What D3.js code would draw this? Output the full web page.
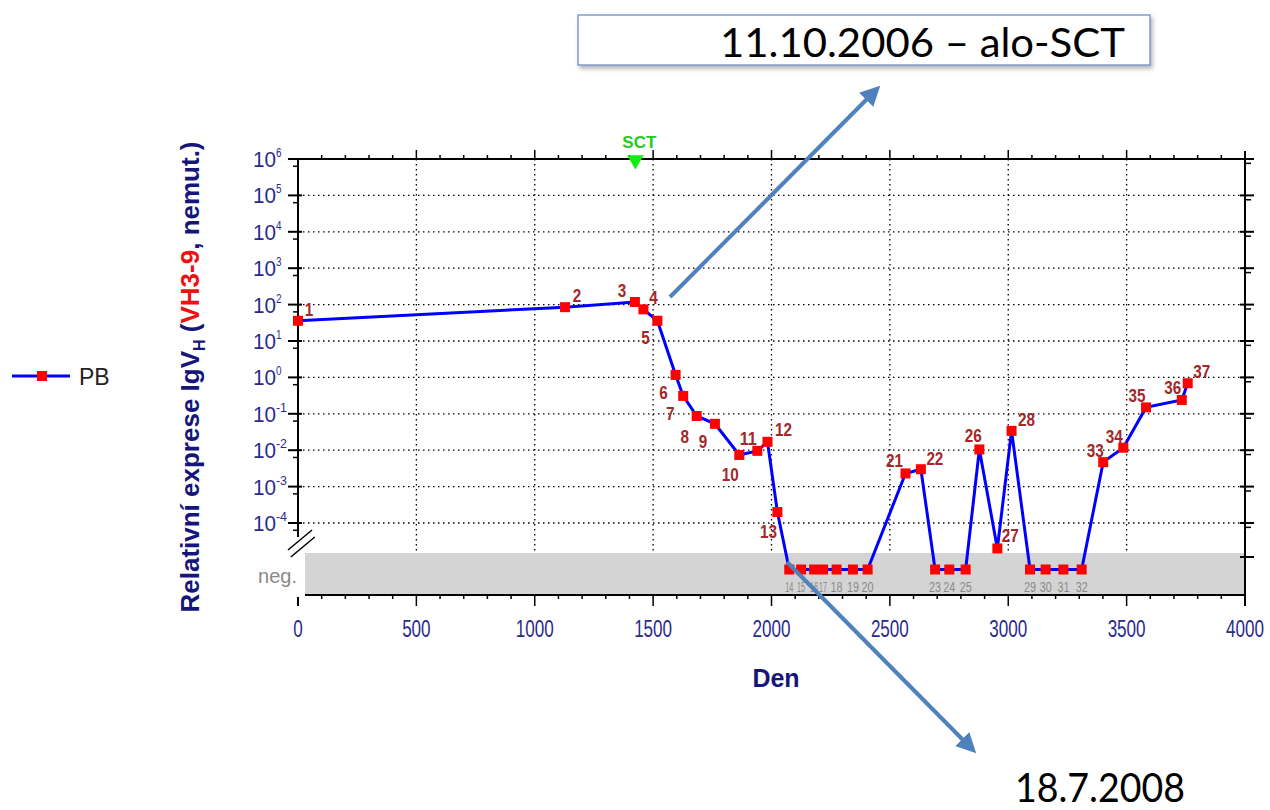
<!DOCTYPE html>
<html>
<head>
<meta charset="utf-8">
<script src="https://cdn.jsdelivr.net/npm/d3@7"></script>
<style>
	body { margin: 0; background: #fff; }
	svg { display: block; }
</style>
</head>
<body>
<div id="chart"></div>
<script>
// sample numbers 1..37, day after diagnosis, relative expression (null = negative)
const sampleIds = d3.range(1, 38)
const days = [0, 1128, 1423, 1459, 1518, 1595, 1627, 1684, 1761, 1864, 1940, 1983, 2025,
	2075, 2125, 2180, 2218, 2275, 2344, 2406,
	2566, 2631, 2691, 2751, 2820, 2878, 2954, 3014,
	3092, 3158, 3233, 3310, 3401, 3486, 3582, 3733, 3758]
const values = [36, 85, 118, 74, 36, 1.17, 0.31, 0.087, 0.053, 0.0074, 0.0096, 0.017, 0.0002,
	null, null, null, null, null, null, null,
	0.0023, 0.003, null, null, null, 0.0105, 0.00002, 0.034,
	null, null, null, null, 0.0047, 0.0117, 0.15, 0.24, 0.69]

const xTicks = [0, 500, 1000, 1500, 2000, 2500, 3000, 3500, 4000]
const yExponents = [6, 5, 4, 3, 2, 1, 0, -1, -2, -3, -4]
const sctDay = 1425

// label placement around each marker (dx, dy); negatives go below the marker
const labelOffsets = [[11, -11], [12, -11], [-13, -11], [10, -11], [-12, 17], [-12, 18], [-13, 18],
	[-12, 21], [-12, 18], [-9, 20], [-9, -12], [16, -12], [-9, 20],
	null, null, null, null, null, null, null,
	[-11, -12], [14, -10], null, null, null, [-6, -13], [13, -12], [15, -11],
	null, null, null, null, [-8, -11], [-9, -11], [-9, -11], [-9, -12], [14, -11]]

const width = 1270, height = 810
const plotLeft = 298, plotRight = 1245, plotTop = 159
const negTop = 553, negBottom = 594, axisBottom = 595

let svg = d3.select('#chart').append('svg')
	.attr('width', width)
	.attr('height', height)
	.style('font-family', '"Liberation Sans", Arial, sans-serif')

let defs = svg.append('defs')
defs.append('marker')
	.attr('id', 'arrow')
	.attr('viewBox', '0 0 10 10')
	.attr('refX', 7).attr('refY', 5)
	.attr('markerWidth', 5).attr('markerHeight', 5)
	.attr('markerUnits', 'strokeWidth')
	.attr('orient', 'auto')
	.append('path')
	.attr('d', 'M0,0 L10,5 L0,10 z')
	.attr('fill', '#4f81bd')
let shadow = defs.append('filter').attr('id', 'shadow')
	.attr('x', '-5%').attr('y', '-20%').attr('width', '110%').attr('height', '150%')
shadow.append('feDropShadow')
	.attr('dx', 2).attr('dy', 3).attr('stdDeviation', 2)
	.attr('flood-color', '#000').attr('flood-opacity', 0.3)

let x = d3.scaleLinear().domain([0, 4000]).range([plotLeft, plotRight])
let y = d3.scaleLog().domain([1e-4, 1e6]).range([523, plotTop])
let negY = (negTop + negBottom) / 2 - 4

// neg band
svg.append('rect')
	.attr('x', 305).attr('y', negTop)
	.attr('width', plotRight - 305).attr('height', negBottom - negTop)
	.attr('fill', '#d4d4d4')

// grid
let grid = svg.append('g')
	.attr('stroke', '#000')
	.attr('stroke-width', 1.3)
	.attr('stroke-dasharray', '1.5,3.5')
grid.selectAll('.hg')
	.data(yExponents.filter(e => e < 6))
	.enter().append('line')
	.attr('x1', plotLeft).attr('x2', plotRight)
	.attr('y1', e => y(Math.pow(10, e))).attr('y2', e => y(Math.pow(10, e)))
grid.selectAll('.vg')
	.data(xTicks.filter(t => t > 0 && t < 4000))
	.enter().append('line')
	.attr('x1', d => x(d)).attr('x2', d => x(d))
	.attr('y1', plotTop).attr('y2', negTop)

// axes
let axes = svg.append('g').attr('stroke', '#000').attr('fill', 'none')
axes.append('line').attr('x1', plotLeft).attr('x2', plotRight).attr('y1', plotTop).attr('y2', plotTop).attr('stroke-width', 2)
axes.append('line').attr('x1', 305).attr('x2', plotRight).attr('y1', axisBottom).attr('y2', axisBottom).attr('stroke-width', 2)
axes.append('line').attr('x1', plotLeft).attr('x2', plotLeft).attr('y1', plotTop - 1).attr('y2', 537).attr('stroke-width', 2)
axes.append('line').attr('x1', plotRight).attr('x2', plotRight).attr('y1', plotTop - 8).attr('y2', 606).attr('stroke-width', 2)
axes.append('line').attr('x1', plotLeft).attr('x2', plotLeft).attr('y1', 597).attr('y2', 606).attr('stroke-width', 2)

// break marks
axes.selectAll('.brk')
	.data([0, 7])
	.enter().append('line')
	.attr('x1', d => 288 + d * 0.4).attr('y1', d => 550 + d)
	.attr('x2', d => 312 + d * 0.4).attr('y2', d => 530 + d)
	.attr('stroke-width', 1.5)

// x minor / major ticks on top and bottom
let xMinor = d3.range(100, 4000, 100)
axes.selectAll('.tt')
	.data(xMinor)
	.enter().append('line')
	.attr('x1', d => x(d)).attr('x2', d => x(d))
	.attr('y1', plotTop).attr('y2', d => d % 500 === 0 ? plotTop - 9 : plotTop - 4)
	.attr('stroke-width', 1.5)
axes.selectAll('.bt')
	.data(xMinor)
	.enter().append('line')
	.attr('x1', d => x(d)).attr('x2', d => x(d))
	.attr('y1', axisBottom).attr('y2', d => d % 500 === 0 ? axisBottom + 11 : axisBottom + 4)
	.attr('stroke-width', 1.5)

// y ticks left and right
axes.selectAll('.lt')
	.data(yExponents)
	.enter().append('line')
	.attr('x1', plotLeft - 10).attr('x2', plotLeft + 4)
	.attr('y1', e => y(Math.pow(10, e))).attr('y2', e => y(Math.pow(10, e)))
	.attr('stroke-width', 2)
axes.selectAll('.lm')
	.data(yExponents)
	.enter().append('line')
	.attr('x1', plotLeft - 5).attr('x2', plotLeft)
	.attr('y1', e => y(Math.pow(10, e - 0.2))).attr('y2', e => y(Math.pow(10, e - 0.2)))
	.attr('stroke-width', 1.5)
axes.selectAll('.rt')
	.data(yExponents)
	.enter().append('line')
	.attr('x1', plotRight - 5).attr('x2', plotRight + 9)
	.attr('y1', e => y(Math.pow(10, e))).attr('y2', e => y(Math.pow(10, e)))
	.attr('stroke-width', 2)
axes.selectAll('.rm')
	.data(yExponents)
	.enter().append('line')
	.attr('x1', plotRight).attr('x2', plotRight + 6)
	.attr('y1', e => y(Math.pow(10, e - 0.12))).attr('y2', e => y(Math.pow(10, e - 0.12)))
	.attr('stroke-width', 1.5)
axes.append('line')
	.attr('x1', plotRight - 5).attr('x2', plotRight + 9)
	.attr('y1', negTop + 4).attr('y2', negTop + 4)
	.attr('stroke-width', 2)

// tick labels (condensed look via textLength)
let tickColor = '#2a2a8e'
svg.append('g').selectAll('text')
	.data(xTicks)
	.enter().append('text')
	.attr('x', d => x(d)).attr('y', 637)
	.attr('text-anchor', 'middle')
	.attr('font-size', 23)
	.attr('fill', tickColor)
	.attr('textLength', d => String(d).length * 9.5)
	.attr('lengthAdjust', 'spacingAndGlyphs')
	.text(d => d)

let yl = svg.append('g').selectAll('g')
	.data(yExponents)
	.enter().append('g')
	.attr('transform', e => `translate(0,${y(Math.pow(10, e))})`)
	.attr('fill', tickColor)
yl.append('text')
	.attr('x', 253).attr('y', 8)
	.attr('font-size', 22)
	.attr('textLength', 23)
	.attr('lengthAdjust', 'spacingAndGlyphs')
	.text('10')
yl.append('text')
	.attr('x', 276).attr('y', -2)
	.attr('font-size', 13)
	.attr('textLength', e => String(e).length * 5.5)
	.attr('lengthAdjust', 'spacingAndGlyphs')
	.text(e => e)

svg.append('text')
	.attr('x', 297).attr('y', 583)
	.attr('text-anchor', 'end')
	.attr('font-size', 20)
	.attr('fill', '#8a8a8a')
	.text('neg.')

// axis titles
let titleColor = '#15157a'
svg.append('text')
	.attr('x', 776).attr('y', 687)
	.attr('text-anchor', 'middle')
	.attr('font-weight', 'bold')
	.attr('font-size', 25)
	.attr('fill', titleColor)
	.text('Den')

let yt = svg.append('text')
	.attr('transform', 'translate(199,377) rotate(-90)')
	.attr('text-anchor', 'middle')
	.attr('font-weight', 'bold')
	.attr('font-size', 26)
	.attr('fill', titleColor)
yt.append('tspan').text('Relativní  exprese IgV')
yt.append('tspan').attr('dy', 6).attr('font-size', 16).text('H')
yt.append('tspan').attr('dy', -6).text(' (')
yt.append('tspan').attr('fill', '#ee1111').text('VH3-9')
yt.append('tspan').text(', nemut.)')

// SCT marker
svg.append('path')
	.attr('d', d3.symbol().type(d3.symbolTriangle).size(120))
	.attr('transform', `translate(${x(sctDay)},160) rotate(180)`)
	.attr('fill', '#11ee11')
svg.append('text')
	.attr('x', x(sctDay) + 4).attr('y', 148)
	.attr('text-anchor', 'middle')
	.attr('font-weight', 'bold')
	.attr('font-size', 17)
	.attr('fill', '#22cc22')
	.text('SCT')

// series
let points = sampleIds.map((id, i) => ({
	id: id,
	day: days[i],
	value: values[i],
	off: labelOffsets[i]
}))
let py = d => d.value === null ? negY : y(d.value)

let line = d3.line()
	.x(d => x(d.day))
	.y(py)

svg.append('path')
	.datum(points)
	.attr('d', line)
	.attr('fill', 'none')
	.attr('stroke', '#0000ff')
	.attr('stroke-width', 3)

svg.append('g').selectAll('rect')
	.data(points)
	.enter().append('rect')
	.attr('x', d => x(d.day) - 5)
	.attr('y', d => py(d) - 5)
	.attr('width', 10).attr('height', 10)
	.attr('fill', '#ff0000')

svg.append('g').selectAll('text')
	.data(points.filter(d => d.value !== null))
	.enter().append('text')
	.attr('x', d => x(d.day) + d.off[0])
	.attr('y', d => py(d) + d.off[1] + 6)
	.attr('text-anchor', 'middle')
	.attr('font-size', 18)
	.attr('font-weight', 'bold')
	.attr('fill', '#a3282a')
	.attr('textLength', d => String(d.id).length * 8.5)
	.attr('lengthAdjust', 'spacingAndGlyphs')
	.text(d => d.id)

svg.append('g').selectAll('text')
	.data(points.filter(d => d.value === null))
	.enter().append('text')
	.attr('x', d => x(d.day))
	.attr('y', negY + 22)
	.attr('text-anchor', 'middle')
	.attr('font-size', 14)
	.attr('fill', '#8a8a8a')
	.attr('textLength', d => d.id >= 14 && d.id <= 17 ? 8 : 12)
	.attr('lengthAdjust', 'spacingAndGlyphs')
	.text(d => d.id)

// legend
let legend = svg.append('g')
legend.append('line')
	.attr('x1', 12).attr('x2', 70).attr('y1', 376).attr('y2', 376)
	.attr('stroke', '#0000ff').attr('stroke-width', 3)
legend.append('rect')
	.attr('x', 37).attr('y', 371).attr('width', 10).attr('height', 10)
	.attr('fill', '#ff0000')
legend.append('text')
	.attr('x', 79).attr('y', 385)
	.attr('font-size', 23)
	.attr('fill', '#222')
	.text('PB')

// annotations
svg.append('rect')
	.attr('x', 578).attr('y', 15).attr('width', 572).attr('height', 50)
	.attr('fill', '#fff')
	.attr('stroke', '#6f8fc2')
	.attr('stroke-width', 1.3)
	.attr('filter', 'url(#shadow)')
svg.append('text')
	.attr('x', 720).attr('y', 57)
	.attr('font-family', 'Lato, "Open Sans", sans-serif')
	.attr('font-size', 41)
	.attr('fill', '#000')
	.attr('textLength', 405)
	.attr('lengthAdjust', 'spacingAndGlyphs')
	.text('11.10.2006 – alo-SCT')

svg.append('line')
	.attr('x1', 670).attr('y1', 297).attr('x2', 876).attr('y2', 90)
	.attr('stroke', '#4f81bd').attr('stroke-width', 4)
	.attr('marker-end', 'url(#arrow)')
svg.append('line')
	.attr('x1', 787).attr('y1', 562).attr('x2', 972).attr('y2', 749)
	.attr('stroke', '#4f81bd').attr('stroke-width', 4)
	.attr('marker-end', 'url(#arrow)')

svg.append('text')
	.attr('x', 1015).attr('y', 802)
	.attr('font-family', 'Lato, "Open Sans", sans-serif')
	.attr('font-size', 40)
	.attr('fill', '#000')
	.attr('textLength', 170)
	.attr('lengthAdjust', 'spacingAndGlyphs')
	.text('18.7.2008')
</script>
</body>
</html>
